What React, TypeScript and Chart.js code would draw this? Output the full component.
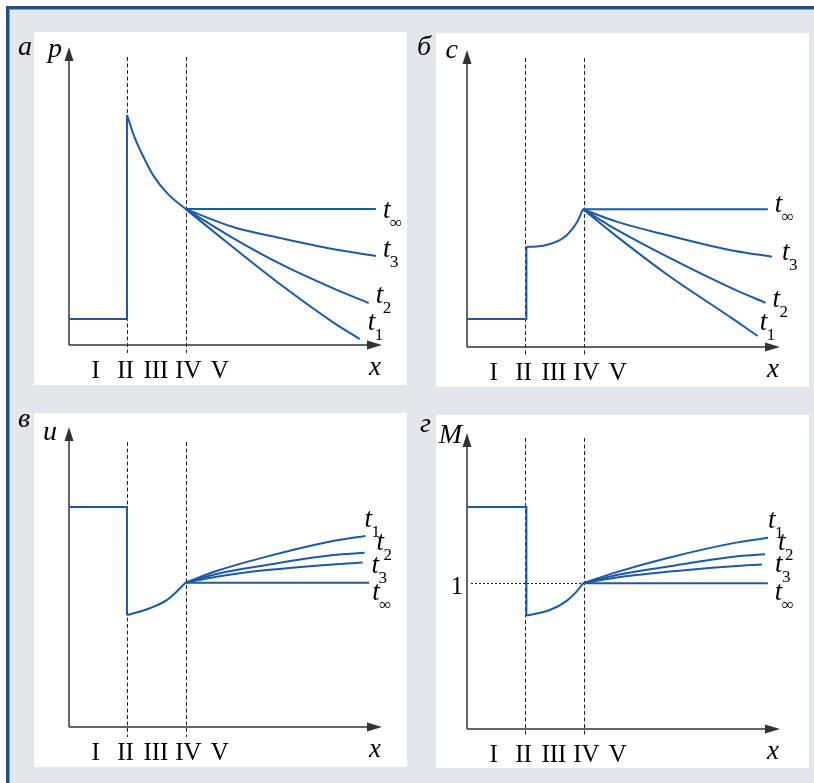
import { useEffect, useRef } from "react";
import { Chart, registerables } from "chart.js";

Chart.register(...registerables);

type Pt = { x: number; y: number };

// ---------- shared axis data ----------
const zoneLabels = ["I", "II", "III", "IV", "V"];
const zonePositions = [0.92, 1.95, 3.0, 4.12, 5.2];
const boundaryLines = [2.0, 4.02];
const xMax = 10.8;
const yMax = 10;

// ---------- panel а : pressure p ----------
const pStep: Pt[] = [{ x: 0, y: 0.87 }, { x: 2.0, y: 0.87 }, { x: 2.0, y: 7.72 }];
const pCurve: Pt[] = [
  { x: 2.0, y: 7.72 }, { x: 2.25, y: 7.0 }, { x: 2.5, y: 6.45 }, { x: 2.9, y: 5.7 },
  { x: 3.4, y: 5.08 }, { x: 4.03, y: 4.56 },
];
const pTinf: Pt[] = [{ x: 4.03, y: 4.56 }, { x: 10.59, y: 4.56 }];
const pT3: Pt[] = [{ x: 4.03, y: 4.56 }, { x: 5.66, y: 3.96 }, { x: 7.38, y: 3.57 }, { x: 9.1, y: 3.22 }, { x: 10.59, y: 2.99 }];
const pT2: Pt[] = [{ x: 4.03, y: 4.56 }, { x: 5.66, y: 3.59 }, { x: 7.38, y: 2.68 }, { x: 9.1, y: 1.91 }, { x: 10.34, y: 1.41 }];
const pT1: Pt[] = [{ x: 4.03, y: 4.56 }, { x: 5.66, y: 3.28 }, { x: 7.38, y: 1.97 }, { x: 9.1, y: 0.77 }, { x: 10.03, y: 0.2 }];

// ---------- panel б : concentration c ----------
const cStep: Pt[] = [{ x: 0, y: 0.94 }, { x: 2.05, y: 0.94 }, { x: 2.05, y: 3.37 }];
const cCurve: Pt[] = [
  { x: 2.05, y: 3.37 }, { x: 2.4, y: 3.38 }, { x: 2.86, y: 3.47 }, { x: 3.2, y: 3.6 },
  { x: 3.45, y: 3.77 }, { x: 3.79, y: 4.19 }, { x: 4.0, y: 4.64 },
];
const cTinf: Pt[] = [{ x: 4.0, y: 4.64 }, { x: 10.38, y: 4.64 }];
const cT3: Pt[] = [{ x: 4.0, y: 4.64 }, { x: 5.16, y: 4.22 }, { x: 6.89, y: 3.77 }, { x: 9.2, y: 3.24 }, { x: 10.52, y: 3.04 }];
const cT2: Pt[] = [{ x: 4.0, y: 4.64 }, { x: 5.16, y: 3.95 }, { x: 6.89, y: 3.05 }, { x: 9.2, y: 1.95 }, { x: 10.3, y: 1.49 }];
const cT1: Pt[] = [{ x: 4.0, y: 4.64 }, { x: 5.0, y: 3.85 }, { x: 6.89, y: 2.45 }, { x: 9.2, y: 0.93 }, { x: 10.03, y: 0.37 }];

// ---------- panel в : velocity u ----------
const uStep: Pt[] = [{ x: 0, y: 7.33 }, { x: 2.0, y: 7.33 }, { x: 2.0, y: 3.73 }];
const uCurve: Pt[] = [
  { x: 2.0, y: 3.73 }, { x: 2.79, y: 3.96 }, { x: 3.37, y: 4.23 }, { x: 3.71, y: 4.51 }, { x: 4.02, y: 4.81 },
];
const uTinf: Pt[] = [{ x: 4.02, y: 4.81 }, { x: 10.36, y: 4.81 }];
const uT1: Pt[] = [{ x: 4.02, y: 4.81 }, { x: 5.09, y: 5.2 }, { x: 6.82, y: 5.68 }, { x: 9.11, y: 6.2 }, { x: 10.23, y: 6.37 }];
const uT2: Pt[] = [{ x: 4.02, y: 4.81 }, { x: 5.09, y: 5.1 }, { x: 6.82, y: 5.4 }, { x: 9.11, y: 5.73 }, { x: 10.2, y: 5.81 }];
const uT3: Pt[] = [{ x: 4.02, y: 4.81 }, { x: 5.09, y: 5.01 }, { x: 6.82, y: 5.23 }, { x: 9.11, y: 5.42 }, { x: 10.13, y: 5.48 }];

// ---------- panel г : Mach number M ----------
const mStep: Pt[] = [{ x: 0, y: 7.5 }, { x: 2.05, y: 7.5 }, { x: 2.05, y: 3.83 }];
const mCurve: Pt[] = [
  { x: 2.05, y: 3.83 }, { x: 2.86, y: 4.02 }, { x: 3.44, y: 4.33 }, { x: 3.78, y: 4.64 }, { x: 4.0, y: 4.92 },
];
const mTinf: Pt[] = [{ x: 4.0, y: 4.92 }, { x: 10.38, y: 4.92 }];
const mT1: Pt[] = [{ x: 4.0, y: 4.92 }, { x: 5.16, y: 5.3 }, { x: 6.89, y: 5.77 }, { x: 9.19, y: 6.28 }, { x: 10.39, y: 6.46 }];
const mT2: Pt[] = [{ x: 4.0, y: 4.92 }, { x: 5.16, y: 5.2 }, { x: 6.89, y: 5.48 }, { x: 9.19, y: 5.82 }, { x: 10.28, y: 5.9 }];
const mT3: Pt[] = [{ x: 4.0, y: 4.92 }, { x: 5.16, y: 5.12 }, { x: 6.89, y: 5.31 }, { x: 9.19, y: 5.5 }, { x: 10.18, y: 5.56 }];
const mUnitLevel = 4.92;
const mUnitLabel = "1";

const LINE = "#1c5aa6";
const AXIS = "#333333";
const SERIF = "'Liberation Serif', 'DejaVu Serif', serif";

interface SeriesDef { sub: string; pts: Pt[]; curved: boolean; lab: [number, number] }
interface PanelDef {
  letter: string;
  axisLabel: string;
  box: { left: number; top: number; width: number; height: number };
  white: { left: number; top: number; right: number; bottom: number };
  pad: { left: number; right: number; top: number; bottom: number };
  letterPos: [number, number];
  axisLabelPos: [number, number];
  dash: [number, number];
  step: Pt[];
  curve: Pt[];
  series: SeriesDef[];
  unitLevel?: number;
  unitLabelX?: number;
}

const panels: PanelDef[] = [
  {
    letter: "а", axisLabel: "p",
    box: { left: 10, top: 10, width: 400, height: 380 },
    white: { left: 34, top: 32, right: 407, bottom: 385 },
    pad: { left: 59, right: 28, top: 37, bottom: 45 },
    letterPos: [18, 55], axisLabelPos: [62, 57], dash: [10, 8],
    step: pStep, curve: pCurve,
    series: [
      { sub: "∞", pts: pTinf, curved: false, lab: [7, 9] },
      { sub: "3", pts: pT3, curved: true, lab: [7, 1] },
      { sub: "2", pts: pT2, curved: true, lab: [7, 0] },
      { sub: "1", pts: pT1, curved: true, lab: [8, -9] },
    ],
  },
  {
    letter: "б", axisLabel: "c",
    box: { left: 410, top: 10, width: 404, height: 380 },
    white: { left: 436, top: 33, right: 809, bottom: 387 },
    pad: { left: 57, right: 34, top: 40, bottom: 43 },
    letterPos: [417, 55], axisLabelPos: [458, 58], dash: [8, 8],
    step: cStep, curve: cCurve,
    series: [
      { sub: "∞", pts: cTinf, curved: false, lab: [7, 3] },
      { sub: "3", pts: cT3, curved: true, lab: [10, 3] },
      { sub: "2", pts: cT2, curved: true, lab: [7, 4] },
      { sub: "1", pts: cT1, curved: true, lab: [2, -6] },
    ],
  },
  {
    letter: "в", axisLabel: "u",
    box: { left: 10, top: 390, width: 400, height: 393 },
    white: { left: 34, top: 413, right: 407, bottom: 767 },
    pad: { left: 59, right: 28, top: 37, bottom: 56 },
    letterPos: [18, 427], axisLabelPos: [57, 440], dash: [15, 10],
    step: uStep, curve: uCurve,
    series: [
      { sub: "1", pts: uT1, curved: true, lab: [-1, -9] },
      { sub: "2", pts: uT2, curved: true, lab: [12, -3] },
      { sub: "3", pts: uT3, curved: true, lab: [9, 10] },
      { sub: "∞", pts: uTinf, curved: false, lab: [3, 17] },
    ],
  },
  {
    letter: "г", axisLabel: "M",
    box: { left: 410, top: 390, width: 404, height: 393 },
    white: { left: 436, top: 415, right: 809, bottom: 768 },
    pad: { left: 57, right: 34, top: 43, bottom: 54 },
    letterPos: [420, 432], axisLabelPos: [462, 443], dash: [5, 8],
    step: mStep, curve: mCurve,
    series: [
      { sub: "1", pts: mT1, curved: true, lab: [0, -10] },
      { sub: "2", pts: mT2, curved: true, lab: [13, -4] },
      { sub: "3", pts: mT3, curved: true, lab: [13, 8] },
      { sub: "∞", pts: mTinf, curved: false, lab: [7, 17] },
    ],
    unitLevel: mUnitLevel,
    unitLabelX: 457,
  },
];

function makeDecor(def: PanelDef) {
  const ox = def.box.left;
  const oy = def.box.top;
  return {
    id: "decor",
    beforeDraw(chart: any) {
      const ctx = chart.ctx;
      ctx.save();
      ctx.fillStyle = "#ffffff";
      const w = def.white;
      ctx.fillRect(w.left - ox, w.top - oy, w.right - w.left, w.bottom - w.top);
      ctx.restore();
    },
    beforeDatasetsDraw(chart: any) {
      const { ctx, chartArea: ca, scales } = chart;
      const xs = scales.x;
      const ys = scales.y;
      ctx.save();
      ctx.strokeStyle = "#222222";
      ctx.lineWidth = 1;
      ctx.setLineDash([4, 2.5]);
      for (const b of boundaryLines) {
        const px = Math.round(xs.getPixelForValue(b)) + 0.5;
        ctx.beginPath();
        ctx.moveTo(px, ca.top + def.dash[0]);
        ctx.lineTo(px, ca.bottom + def.dash[1]);
        ctx.stroke();
      }
      if (def.unitLevel !== undefined) {
        const py = Math.round(ys.getPixelForValue(def.unitLevel)) + 0.5;
        ctx.setLineDash([2, 2]);
        ctx.beginPath();
        ctx.moveTo(ca.left + 4, py);
        ctx.lineTo(xs.getPixelForValue(def.curve[def.curve.length - 1].x), py);
        ctx.stroke();
      }
      ctx.setLineDash([]);
      ctx.strokeStyle = AXIS;
      ctx.lineWidth = 1.5;
      ctx.beginPath();
      ctx.moveTo(ca.left, ca.bottom);
      ctx.lineTo(ca.left, ca.top + 10);
      ctx.moveTo(ca.left, ca.bottom);
      ctx.lineTo(ca.right - 10, ca.bottom);
      ctx.stroke();
      ctx.fillStyle = AXIS;
      ctx.beginPath();
      ctx.moveTo(ca.left, ca.top);
      ctx.lineTo(ca.left - 4.5, ca.top + 14);
      ctx.lineTo(ca.left + 4.5, ca.top + 14);
      ctx.closePath();
      ctx.fill();
      ctx.beginPath();
      ctx.moveTo(ca.right, ca.bottom);
      ctx.lineTo(ca.right - 15, ca.bottom - 4.5);
      ctx.lineTo(ca.right - 15, ca.bottom + 4.5);
      ctx.closePath();
      ctx.fill();
      ctx.restore();
    },
    afterDraw(chart: any) {
      const { ctx, chartArea: ca, scales } = chart;
      const xs = scales.x;
      const ys = scales.y;
      ctx.save();
      ctx.fillStyle = "#000000";
      ctx.textBaseline = "alphabetic";
      ctx.font = `italic 28px ${SERIF}`;
      ctx.textAlign = "left";
      ctx.fillText(def.letter, def.letterPos[0] - ox, def.letterPos[1] - oy);
      ctx.textAlign = "right";
      ctx.fillText(def.axisLabel, def.axisLabelPos[0] - ox, def.axisLabelPos[1] - oy);
      ctx.font = `italic 27px ${SERIF}`;
      ctx.textAlign = "center";
      ctx.fillText("x", ca.right - 7, ca.bottom + 30);
      ctx.font = `25px ${SERIF}`;
      zoneLabels.forEach((lab, i) => {
        ctx.fillText(lab, xs.getPixelForValue(zonePositions[i]), ca.bottom + 33);
      });
      if (def.unitLevel !== undefined && def.unitLabelX !== undefined) {
        ctx.textAlign = "center";
        ctx.fillText(mUnitLabel, def.unitLabelX - ox, ys.getPixelForValue(def.unitLevel) + 11);
      }
      for (const s of def.series) {
        const last = s.pts[s.pts.length - 1];
        const ex = xs.getPixelForValue(last.x) + s.lab[0];
        const ey = ys.getPixelForValue(last.y) + s.lab[1];
        ctx.textAlign = "left";
        ctx.font = `italic 27px ${SERIF}`;
        ctx.fillText("t", ex, ey);
        ctx.font = `17px ${SERIF}`;
        ctx.fillText(s.sub, ex + 7, ey + 10);
      }
      ctx.restore();
    },
  };
}

function makeConfig(def: PanelDef): any {
  const base = { borderColor: LINE, borderWidth: 2, pointRadius: 0, fill: false, clip: false as any };
  const datasets: any[] = [
    { ...base, label: "step", data: def.step, tension: 0 },
    { ...base, label: "transition", data: def.curve, cubicInterpolationMode: "monotone" },
    ...def.series.map((s) =>
      s.curved
        ? { ...base, label: "t" + s.sub, data: s.pts, cubicInterpolationMode: "monotone" }
        : { ...base, label: "t" + s.sub, data: s.pts, tension: 0 }
    ),
  ];
  return {
    type: "line",
    data: { datasets },
    options: {
      animation: false,
      responsive: false,
      events: [],
      layout: { padding: def.pad },
      plugins: { legend: { display: false }, tooltip: { enabled: false }, title: { display: false } },
      scales: {
        x: { type: "linear", min: 0, max: xMax, display: false },
        y: { type: "linear", min: 0, max: yMax, display: false },
      },
    },
    plugins: [makeDecor(def)],
  };
}

function PanelChart({ def }: { def: PanelDef }) {
  const ref = useRef<HTMLCanvasElement>(null);
  useEffect(() => {
    const chart = new Chart(ref.current as HTMLCanvasElement, makeConfig(def));
    return () => chart.destroy();
  }, [def]);
  return (
    <canvas
      ref={ref}
      width={def.box.width}
      height={def.box.height}
      style={{
        position: "absolute",
        left: def.box.left,
        top: def.box.top,
        width: def.box.width,
        height: def.box.height,
      }}
    />
  );
}

export default function App() {
  return (
    <div style={{ position: "absolute", left: 0, top: 0, width: 814, height: 783, background: "#ffffff", overflow: "hidden" }}>
      <div
        style={{
          position: "absolute",
          left: 6,
          top: 6,
          width: 812,
          height: 781,
          boxSizing: "border-box",
          background: "#e3e7ec",
          borderLeft: "3px solid #1d4e85",
          borderTop: "3px solid #1d4e85",
          boxShadow: "inset 1px 1px 0 #7d9fc6",
        }}
      />
      {panels.map((p) => (
        <PanelChart key={p.letter} def={p} />
      ))}
    </div>
  );
}
